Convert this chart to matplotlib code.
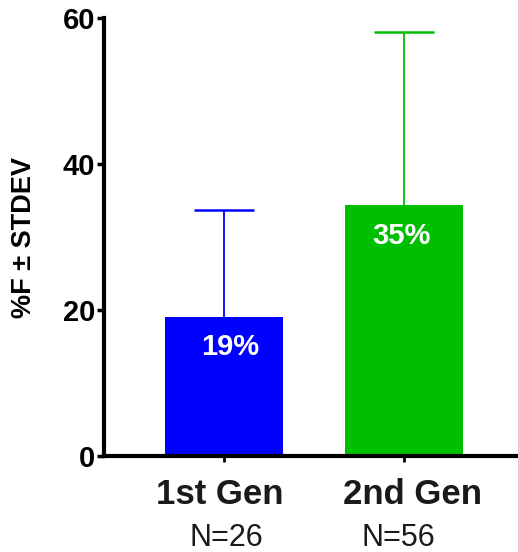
import matplotlib
matplotlib.use('Agg')
import matplotlib.pyplot as plt
import matplotlib.transforms as mtrans

groups = ['1st Gen', '2nd Gen']
counts = ['N=26', 'N=56']
means = [19.1, 34.4]
stdevs = [14.6, 23.7]
labels = ['19%', '35%']
colors = ['#0000ff', '#00bf00']

fig = plt.figure(figsize=(5.18, 5.52), dpi=100)
ax = fig.add_axes([0.2008, 0.174, 0.7992, 0.793])

x = list(range(len(groups)))
ax.bar(x, means, width=0.66, color=colors, zorder=2)
# the lower half of each error bar ends up hidden behind its bar
for (xi, m, s, c) in zip(x, means, stdevs, colors):
    ax.errorbar(xi, m, yerr=s, fmt='none', ecolor=c,
                elinewidth=1.3, capsize=21.5, capthick=1.8, zorder=1)

label_dx = [0.035, -0.015]
for (xi, m, t, dx) in zip(x, means, labels, label_dx):
    ax.text(xi + dx, m - 4.2, t, color='white', ha='center', va='center',
            fontsize=21, fontweight='bold', family='Liberation Sans')

ax.set_xlim(-0.667, 1.633)
ax.set_ylim(0, 60)
ax.set_yticks([0, 20, 40, 60])
ax.set_yticklabels(['0', '20', '40', '60'], family='Liberation Sans',
                   fontweight='bold', fontsize=21)
ax.set_xticks(x)
ax.set_xticklabels(groups, fontsize=25, fontweight='bold',
                   family='Liberation Sans', color='#1a1a1a')
ax.tick_params(axis='y', length=5, width=2.5, pad=1.5)
ax.tick_params(axis='x', length=4, width=2, pad=12)

# the group names sit a little off the bar centres in the original
name_dx_px = [-4.5, 8.5]
for (lab, dx) in zip(ax.get_xticklabels(), name_dx_px):
    off = mtrans.ScaledTranslation(dx / 100, 0, fig.dpi_scale_trans)
    lab.set_transform(lab.get_transform() + off)

trans = mtrans.blended_transform_factory(ax.transData, fig.transFigure)
count_dx = [0.011, -0.034]
for (xi, n, dx) in zip(x, counts, count_dx):
    fig.text(xi + dx, 1 - 538 / 552, n, transform=trans, ha='center',
             va='center', fontsize=22, family='Liberation Sans',
             color='#1a1a1a')

for side in ['top', 'right']:
    ax.spines[side].set_visible(False)
for side in ['left', 'bottom']:
    ax.spines[side].set_linewidth(3)

ax.set_ylabel('%F ± STDEV', fontsize=19.5, fontweight='bold',
              family='Liberation Sans')
ax.yaxis.set_label_coords(37 / 518, 1 - 238 / 552, transform=fig.transFigure)

fig.savefig('out.png', dpi=100)
